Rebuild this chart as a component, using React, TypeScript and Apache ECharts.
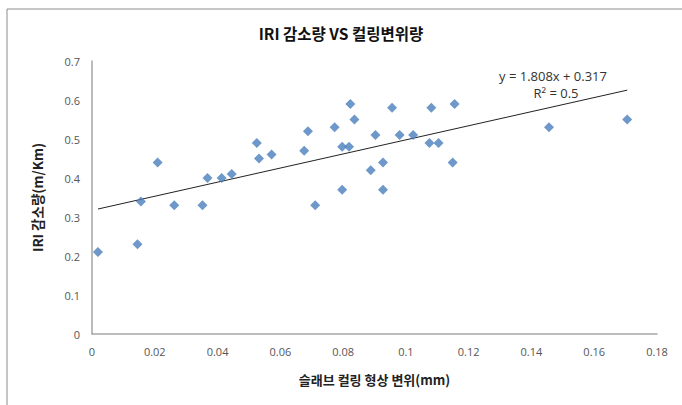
import React, { useEffect, useRef } from "react";
import * as echarts from "echarts";

// Slab curling displacement (mm) vs IRI reduction (m/Km)
const curlingDisp = [
  0.0019, 0.0145, 0.0156, 0.0209, 0.0262, 0.0352, 0.0368, 0.0413, 0.0445, 0.0525,
  0.0532, 0.0572, 0.0676, 0.0688, 0.0711, 0.0773, 0.0797, 0.0797, 0.0819, 0.0823,
  0.0836, 0.0888, 0.0903, 0.0927, 0.0927, 0.0956, 0.098, 0.1023, 0.1081, 0.1075,
  0.1104, 0.1149, 0.1155, 0.1456, 0.1705,
];
const iriReduction = [
  0.21, 0.23, 0.34, 0.44, 0.33, 0.33, 0.4, 0.4, 0.41, 0.49,
  0.45, 0.46, 0.47, 0.52, 0.33, 0.53, 0.37, 0.48, 0.48, 0.59,
  0.55, 0.42, 0.51, 0.37, 0.44, 0.58, 0.51, 0.51, 0.58, 0.49,
  0.49, 0.44, 0.59, 0.53, 0.55,
];

// Linear trend
const trendSlope = 1.808;
const trendIntercept = 0.317;
const trendR2 = 0.5;

const titleText = "IRI 감소량 VS 컬링변위량";
const xAxisTitle = "슬래브 컬링 형상 변위(mm)";
const yAxisTitle = "IRI 감소량(m/Km)";

export default function App() {
  const ref = useRef<HTMLDivElement>(null);

  useEffect(() => {
    document.body.style.margin = "0";
    if (!ref.current) return;
    const chart = echarts.init(ref.current, null, { renderer: "svg" });

    const points = curlingDisp.map((x, i) => [x, iriReduction[i]]);
    const xMin = Math.min(...curlingDisp);
    const xMax = Math.max(...curlingDisp);
    const trend = [
      [xMin, trendIntercept + trendSlope * xMin],
      [xMax, trendIntercept + trendSlope * xMax],
    ];

    const font = "'Noto Sans CJK KR', 'Noto Sans', sans-serif";

    chart.setOption({
      animation: false,
      backgroundColor: "#fff",
      title: {
        text: titleText,
        left: "center",
        top: 20,
        textStyle: { fontFamily: font, fontSize: 15.5, fontWeight: "bold", color: "#111" },
      },
      grid: { left: 92, right: 25, top: 61, bottom: 71 },
      xAxis: {
        type: "value",
        min: 0,
        max: 0.18,
        interval: 0.02,
        name: xAxisTitle,
        nameLocation: "middle",
        nameGap: 39,
        nameTextStyle: { fontFamily: font, fontSize: 13, fontWeight: "bold", color: "#222" },
        axisLine: { show: true, lineStyle: { color: "#a6a6a6", width: 1.5 } },
        axisTick: { show: false },
        splitLine: { show: false },
        axisLabel: {
          margin: 12,
          color: "#555",
          fontFamily: "'Open Sans', sans-serif",
          fontSize: 11,
          formatter: (v: number) => String(parseFloat(v.toFixed(2))),
        },
      },
      yAxis: {
        type: "value",
        min: 0,
        max: 0.7,
        interval: 0.1,
        name: yAxisTitle,
        nameLocation: "middle",
        nameGap: 48,
        nameTextStyle: { fontFamily: font, fontSize: 13.5, fontWeight: "bold", color: "#222" },
        axisLine: { show: true, lineStyle: { color: "#a6a6a6", width: 1.5 } },
        axisTick: { show: false },
        splitLine: { show: false },
        axisLabel: {
          margin: 12,
          color: "#555",
          fontFamily: "'Open Sans', sans-serif",
          fontSize: 11,
          formatter: (v: number) => String(parseFloat(v.toFixed(1))),
        },
      },
      graphic: [
        {
          type: "rect",
          shape: { x: 7, y: 9, width: 720, height: 440 },
          style: { fill: "none", stroke: "#8c8c8c", lineWidth: 1 },
          silent: true,
          z: -1,
        },
        {
          type: "text",
          x: 553,
          y: 76,
          style: {
            text: `y = ${trendSlope}x + ${trendIntercept}`,
            align: "center",
            verticalAlign: "middle",
            fontFamily: "'Open Sans', sans-serif",
            fontSize: 13,
            fill: "#333",
          },
        },
        {
          type: "text",
          x: 556,
          y: 93,
          style: {
            text: `R² = ${trendR2}`,
            align: "center",
            verticalAlign: "middle",
            fontFamily: "'Open Sans', sans-serif",
            fontSize: 13,
            fill: "#333",
          },
        },
      ],
      series: [
        {
          type: "scatter",
          data: points,
          symbol: "diamond",
          symbolSize: 10,
          itemStyle: { color: "#4a7ebb" },
          z: 3,
        },
        {
          type: "line",
          data: trend,
          symbol: "none",
          lineStyle: { color: "#222", width: 1 },
          z: 2,
        },
      ],
    });

    return () => chart.dispose();
  }, []);

  return <div ref={ref} style={{ width: 682, height: 405 }} />;
}
